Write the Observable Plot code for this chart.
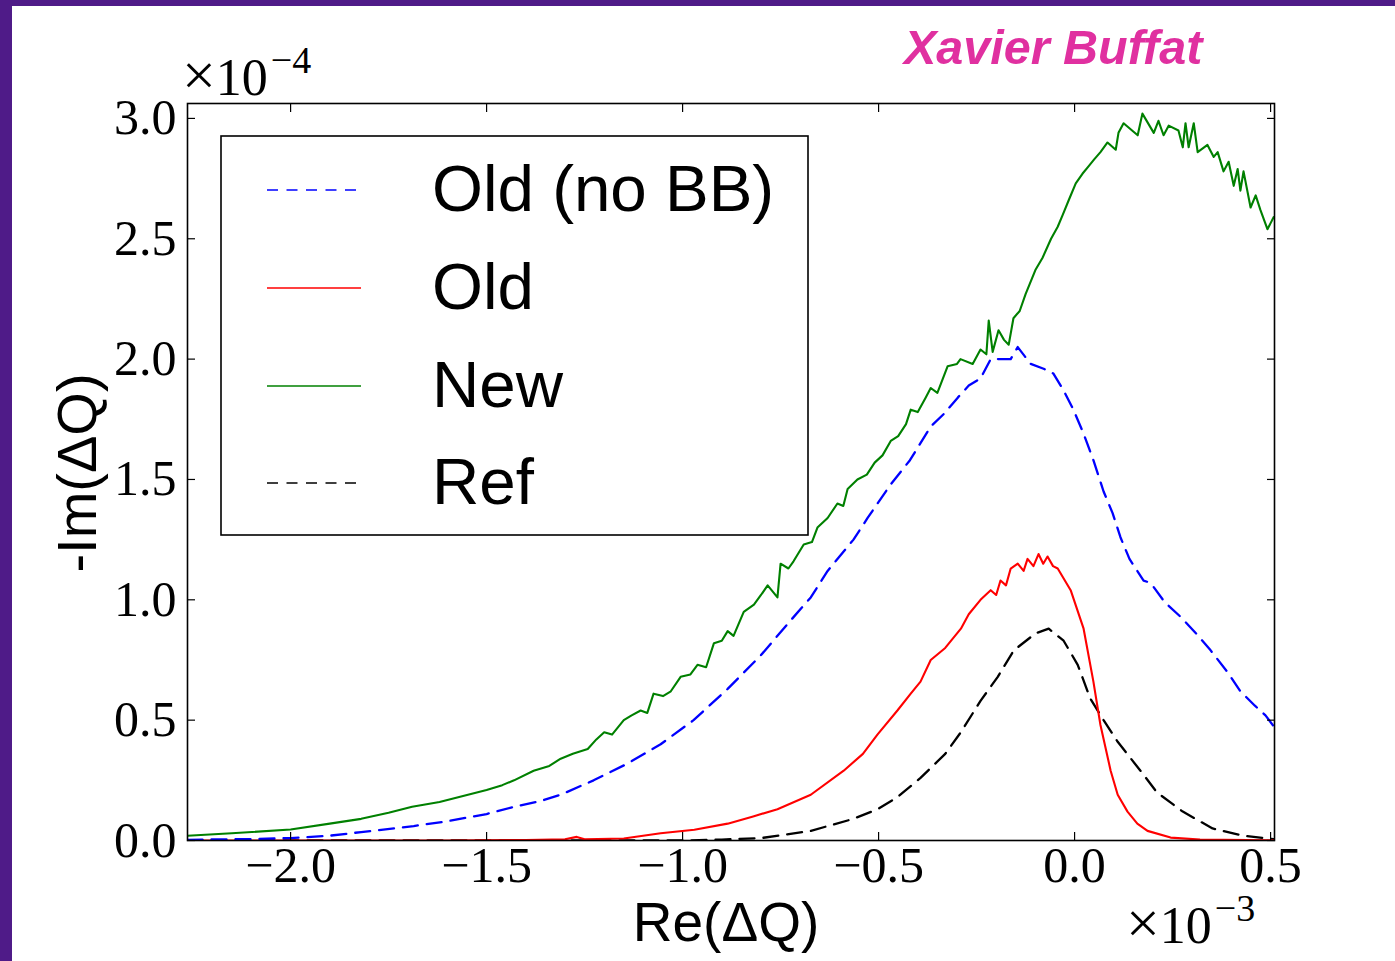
<!DOCTYPE html>
<html>
<head>
<meta charset="utf-8">
<script src="https://cdn.jsdelivr.net/npm/d3@7"></script>
<script src="https://cdn.jsdelivr.net/npm/@observablehq/plot@0.6"></script>
<style>
  html, body { margin: 0; padding: 0; background: #4f1b88; }
  #page { position: relative; width: 1395px; height: 961px; background: #4f1b88; overflow: hidden; }
  #panel { position: absolute; left: 12px; top: 6px; right: 0; bottom: 0; background: #ffffff; }
  #chart { position: absolute; left: 0; top: 0; }
  #overlay { position: absolute; left: 0; top: 0; pointer-events: none; }
</style>
</head>
<body>
<div id="page">
  <div id="panel"></div>
  <div id="chart"></div>
  <svg id="overlay" width="1395" height="961"></svg>
</div>
<script>
// ---- Data (Re(ΔQ) in units of 1e-3, -Im(ΔQ) in units of 1e-4) ----
const seriesNames = ["Old (no BB)", "Old", "New", "Ref"];

const oldNoBBX = [-2.263,-2.1,-2.0,-1.9,-1.82,-1.686,-1.6,-1.5,-1.43,-1.36,-1.311,-1.227,-1.14,-1.056,-0.972,-0.885,-0.80,-0.732,-0.673,-0.63,-0.564,-0.528,-0.469,-0.42,-0.367,-0.335,-0.298,-0.27,-0.24,-0.214,-0.19,-0.163,-0.145,-0.112,-0.079,-0.054,-0.028,-0.003,0.023,0.048,0.074,0.097,0.117,0.14,0.16,0.176,0.194,0.23,0.27,0.31,0.347,0.39,0.423,0.46,0.487,0.51];
const oldNoBBY = [0.003,0.006,0.01,0.02,0.035,0.06,0.08,0.11,0.14,0.165,0.19,0.25,0.32,0.40,0.50,0.63,0.77,0.90,1.01,1.12,1.25,1.34,1.48,1.58,1.72,1.77,1.84,1.89,1.92,2.0,2.0,2.0,2.05,1.98,1.96,1.94,1.87,1.79,1.69,1.58,1.45,1.36,1.26,1.17,1.12,1.08,1.07,0.99,0.93,0.86,0.79,0.70,0.62,0.56,0.52,0.47];

const oldX = [-2.263,-1.6,-1.4,-1.3,-1.27,-1.25,-1.15,-1.056,-0.97,-0.885,-0.82,-0.758,-0.673,-0.589,-0.54,-0.503,-0.452,-0.418,-0.393,-0.367,-0.33,-0.29,-0.27,-0.24,-0.214,-0.2,-0.189,-0.175,-0.163,-0.145,-0.13,-0.12,-0.105,-0.092,-0.08,-0.069,-0.055,-0.043,-0.01,0.023,0.048,0.066,0.092,0.11,0.135,0.16,0.186,0.245,0.32,0.51];
const oldY = [0.0,0.0,0.002,0.005,0.015,0.005,0.008,0.03,0.045,0.07,0.10,0.13,0.19,0.29,0.36,0.44,0.54,0.61,0.66,0.75,0.80,0.88,0.94,1.0,1.04,1.02,1.08,1.06,1.13,1.15,1.12,1.17,1.14,1.19,1.15,1.18,1.14,1.13,1.04,0.88,0.66,0.48,0.29,0.19,0.12,0.07,0.04,0.012,0.004,0.001];

const newX = [-2.263,-2.15,-2.0,-1.9,-1.82,-1.75,-1.69,-1.62,-1.56,-1.5,-1.46,-1.43,-1.38,-1.34,-1.311,-1.28,-1.242,-1.22,-1.2,-1.18,-1.15,-1.13,-1.107,-1.09,-1.074,-1.05,-1.03,-1.005,-0.98,-0.962,-0.94,-0.92,-0.9,-0.885,-0.87,-0.844,-0.818,-0.8,-0.783,-0.758,-0.75,-0.73,-0.717,-0.691,-0.67,-0.656,-0.63,-0.605,-0.59,-0.579,-0.554,-0.53,-0.51,-0.49,-0.469,-0.45,-0.43,-0.418,-0.40,-0.38,-0.367,-0.35,-0.324,-0.30,-0.291,-0.26,-0.24,-0.225,-0.219,-0.209,-0.194,-0.18,-0.168,-0.156,-0.14,-0.125,-0.1,-0.082,-0.06,-0.043,-0.03,-0.015,0.003,0.02,0.035,0.05,0.066,0.084,0.105,0.112,0.125,0.161,0.173,0.202,0.214,0.227,0.24,0.265,0.276,0.283,0.291,0.304,0.314,0.339,0.355,0.365,0.38,0.393,0.406,0.416,0.423,0.431,0.449,0.462,0.474,0.492,0.508];
const newY = [0.02,0.03,0.046,0.07,0.09,0.115,0.14,0.16,0.185,0.21,0.23,0.25,0.29,0.31,0.34,0.36,0.38,0.42,0.45,0.44,0.50,0.52,0.54,0.53,0.61,0.60,0.62,0.68,0.69,0.73,0.72,0.82,0.83,0.87,0.85,0.95,0.98,1.02,1.06,1.01,1.15,1.13,1.16,1.23,1.24,1.30,1.34,1.40,1.39,1.46,1.50,1.52,1.57,1.60,1.66,1.68,1.73,1.79,1.78,1.84,1.88,1.86,1.97,1.98,2.0,1.98,2.04,2.02,2.16,2.03,2.12,2.08,2.06,2.17,2.2,2.27,2.37,2.42,2.5,2.55,2.6,2.66,2.73,2.77,2.80,2.83,2.86,2.90,2.87,2.94,2.98,2.93,3.02,2.94,2.99,2.93,2.97,2.95,2.88,2.98,2.88,2.98,2.86,2.89,2.84,2.86,2.78,2.82,2.72,2.79,2.70,2.78,2.63,2.68,2.62,2.54,2.59];

const refX = [-2.263,-1.0,-0.9,-0.8,-0.673,-0.564,-0.503,-0.452,-0.393,-0.33,-0.29,-0.24,-0.196,-0.155,-0.1,-0.066,-0.028,0.008,0.04,0.074,0.11,0.168,0.21,0.276,0.352,0.43,0.51];
const refY = [0.0,0.0,0.004,0.01,0.04,0.09,0.13,0.18,0.26,0.36,0.45,0.58,0.68,0.79,0.86,0.88,0.83,0.73,0.59,0.50,0.41,0.29,0.20,0.12,0.05,0.02,0.005];

const xTicks = [-2.0, -1.5, -1.0, -0.5, 0.0, 0.5];
const yTicks = [0.0, 0.5, 1.0, 1.5, 2.0, 2.5, 3.0];

const seriesColors = ["#0000ff", "#ff0000", "#008000", "#000000"];
const seriesDash = ["15,9", null, null, "15,9"];

// ---- build table ----
const xsAll = [oldNoBBX, oldX, newX, refX];
const ysAll = [oldNoBBY, oldY, newY, refY];
const rows = [];
seriesNames.forEach((name, i) => {
  xsAll[i].forEach((x, j) => rows.push({series: name, x, y: ysAll[i][j]}));
});

const fmt = d => (d < 0 ? "\u2212" : "") + Math.abs(d).toFixed(1);

const lineMarks = seriesNames.map((name, i) =>
  Plot.line(rows.filter(r => r.series === name), {
    x: "x", y: "y", stroke: seriesColors[i], strokeWidth: seriesDash[i] ? 2.3 : 2.1,
    strokeDasharray: seriesDash[i] || undefined, clip: true
  })
);

const chart = Plot.plot({
  width: 1395, height: 961,
  marginLeft: 187, marginRight: 121, marginTop: 103, marginBottom: 121,
  x: {domain: [-2.263, 0.51]},
  y: {domain: [0, 3.062]},
  style: {background: "transparent", fontFamily: "'Liberation Serif', serif", fontSize: "50px", color: "#000", overflow: "visible"},
  marks: [
    ...lineMarks.slice().reverse(),
    Plot.axisX({ticks: xTicks, tickSize: 0, tickPadding: 6, tickFormat: fmt, label: null}),
    Plot.axisX({ticks: xTicks, tickSize: 8, dy: -8, tickFormat: () => "", label: null, strokeWidth: 1.2}),
    Plot.axisX({anchor: "top", ticks: xTicks, tickSize: 8, dy: 8, tickFormat: () => "", label: null, strokeWidth: 1.2}),
    Plot.axisY({ticks: yTicks, tickSize: 0, tickPadding: 11, tickFormat: fmt, label: null}),
    Plot.axisY({ticks: yTicks, tickSize: 8, dx: 8, tickFormat: () => "", label: null, strokeWidth: 1.2}),
    Plot.axisY({anchor: "right", ticks: yTicks, tickSize: 8, dx: -8, tickFormat: () => "", label: null, strokeWidth: 1.2}),
    Plot.frame({stroke: "#000", strokeWidth: 1.6})
  ]
});
document.getElementById("chart").appendChild(chart);

// ---- overlay texts & legend ----
const ov = d3.select("#overlay");
ov.append("text").attr("x", 904).attr("y", 64)
  .attr("font-family", "'Liberation Sans', Arial, sans-serif").attr("font-weight", "bold")
  .attr("font-style", "italic").attr("font-size", 48.5).attr("fill", "#e030a0").text("Xavier Buffat");

function mult(x, y, exp) {
  const t = ov.append("text").attr("x", x).attr("y", y)
    .attr("font-family", "'Liberation Serif', serif").attr("font-size", 52).attr("fill", "#000");
  t.append("tspan").attr("font-size", 60).text("\u00d7");
  t.append("tspan").text("10");
  t.append("tspan").attr("dy", -22).attr("dx", 3).attr("font-size", 38).text(exp);
}
mult(182, 95, "\u22124");
mult(1126, 943, "\u22123");

ov.append("text").attr("x", 726).attr("y", 941).attr("text-anchor", "middle")
  .attr("font-family", "'Liberation Sans', Arial, sans-serif").attr("font-size", 55).attr("fill", "#000")
  .text("Re(\u0394Q)");
ov.append("text").attr("transform", "translate(96,473) rotate(-90)").attr("text-anchor", "middle")
  .attr("font-family", "'Liberation Sans', Arial, sans-serif").attr("font-size", 56).attr("fill", "#000")
  .text("-Im(\u0394Q)");

// legend
ov.append("rect").attr("x", 221).attr("y", 136).attr("width", 587).attr("height", 399)
  .attr("fill", "#fff").attr("stroke", "#000").attr("stroke-width", 1.6);
const legY = [190, 288, 386, 483];
seriesNames.forEach((name, i) => {
  ov.append("line").attr("x1", 267).attr("x2", 361).attr("y1", legY[i]).attr("y2", legY[i])
    .attr("stroke", seriesColors[i]).attr("stroke-width", 1.4)
    .attr("stroke-dasharray", seriesDash[i] ? "11,8.5" : null);
  ov.append("text").attr("x", 432).attr("y", legY[i] + 21)
    .attr("font-family", "'Liberation Sans', Arial, sans-serif").attr("font-size", 65.5).attr("fill", "#000")
    .text(name);
});
</script>
</body>
</html>
